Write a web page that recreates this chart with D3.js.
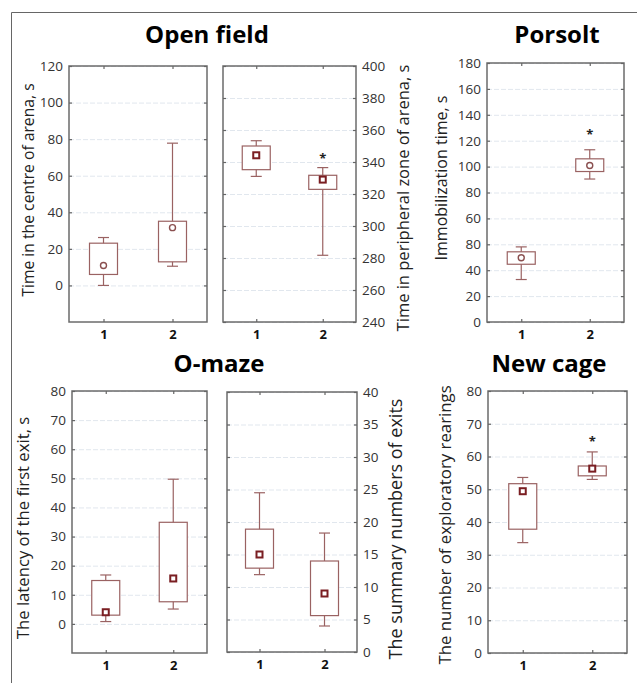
<!DOCTYPE html>
<html>
<head>
<meta charset="utf-8">
<script src="https://cdn.jsdelivr.net/npm/d3@7"></script>
<style>
  body { margin: 0; background: #fff; }
  svg { display: block; font-family: "Open Sans", sans-serif; }
</style>
</head>
<body>
<div id="chart"></div>
<script>
const groups = ["1", "2"];

// [lower whisker, Q1, median, Q3, upper whisker] for groups 1 and 2
const centreArena = [[0, 6, 10.9, 23.1, 26.2], [10.5, 12.9, 31.6, 35.1, 77.8]];
const peripheralZone = [[331, 335.2, 344.2, 350, 353.3], [281.7, 322.9, 329, 331.7, 336.5]];
const immobilization = [[32.8, 42.3, 44.8, 47.1, 49], [90.4, 96.2, 100.8, 106, 113]];
const firstExitLatency = [[0.8, 3, 4, 14.9, 16.8], [5.1, 7.6, 15.6, 34.9, 49.7]];
const exitCount = [[11.9, 12.9, 15, 18.9, 24.5], [4, 5.6, 9, 14, 18.3]];
const rearings = [[33.7, 37.8, 49.4, 51.7, 53.6], [53, 54.1, 56.3, 57.1, 61.4]];

// significance marks (*) per group, null = none
const peripheralStars = [null, 343];
const immobilizationStars = [null, 125.8];
const rearingStars = [null, 65];

// tick values
const centreTicks = [0, 20, 40, 60, 80, 100, 120];
const peripheralTicks = [240, 260, 280, 300, 320, 340, 360, 380, 400];
const porsoltTicks = [0, 20, 40, 50, 60, 80, 100, 120, 140, 160, 180];
const porsoltTickLabels = ["0", "20", "40", "80", "60", "80", "100", "120", "140", "160", "180"];
const latencyTicks = [0, 10, 20, 30, 40, 50, 60, 70, 80];
const exitTicks = [0, 5, 10, 15, 20, 25, 30, 35, 40];
const rearingTicks = [0, 10, 20, 30, 40, 50, 60, 70, 80];

const titles = [
    { text: "Open field", x: 207, y: 43 },
    { text: "Porsolt", x: 557, y: 43 },
    { text: "O-maze", x: 219, y: 372 },
    { text: "New cage", x: 549, y: 372 }
];

const width = 637, height = 683;

const svg = d3.select("#chart").append("svg")
    .attr("width", width)
    .attr("height", height);

// outer frame (top and left only)
svg.append("path")
    .attr("d", `M11.5,${height} V12.5 H${width}`)
    .attr("fill", "none")
    .attr("stroke", "#666")
    .attr("stroke-width", 1);

const porsoltStep = (322 - 63) / 10;

const panels = [
    { stats: centreArena, stars: [null, null], ticks: centreTicks, domain: [-20, 120],
      x0: 69, x1: 207, y0: 66, y1: 322, side: "left", marker: "circle",
      label: "Time in the centre of arena, s", lx: 28, ly: 190, lsize: 15.7 },
    { stats: peripheralZone, stars: peripheralStars, ticks: peripheralTicks, domain: [240, 400],
      x0: 223, x1: 356, y0: 66, y1: 322, side: "right", marker: "square",
      label: "Time in peripheral zone of arena, s", lx: 402, ly: 198, lsize: 16.5 },
    { stats: immobilization, stars: immobilizationStars, ticks: porsoltTicks, labels: porsoltTickLabels,
      scale: d3.scaleLinear().domain([0, 40, 60, 180]).range([322, 322 - 2 * porsoltStep, 322 - 4 * porsoltStep, 63]),
      x0: 487, x1: 624, y0: 63, y1: 322, side: "left", marker: "circle",
      label: "Immobilization time, s", lx: 441, ly: 178, lsize: 16 },
    { stats: firstExitLatency, stars: [null, null], ticks: latencyTicks, domain: [-10, 80],
      x0: 72, x1: 207, y0: 391, y1: 653, side: "left", marker: "square",
      label: "The latency of the first exit, s", lx: 22, ly: 528, lsize: 16.7 },
    { stats: exitCount, stars: [null, null], ticks: exitTicks, domain: [0, 40],
      x0: 227, x1: 357, y0: 392, y1: 652, side: "right", marker: "square",
      label: "The summary numbers of exits", lx: 395, ly: 529, lsize: 18 },
    { stats: rearings, stars: rearingStars, ticks: rearingTicks, domain: [0, 80],
      x0: 488, x1: 627, y0: 391, y1: 653, side: "left", marker: "square",
      label: "The number of exploratory rearings", lx: 444, ly: 525, lsize: 16.8 }
];

panels.forEach(p => {
    const y = p.scale || d3.scaleLinear().domain(p.domain).range([p.y1, p.y0]);
    const x = d3.scalePoint().domain(groups).range([p.x0, p.x1]).padding(0.5);
    const w = p.x1 - p.x0;
    const g = svg.append("g");

    // gridlines
    g.append("g")
        .attr("transform", `translate(${p.x0},0)`)
        .call(d3.axisLeft(y).tickValues(p.ticks).tickSize(-w).tickFormat(""))
        .call(a => a.select(".domain").remove())
        .selectAll("line")
        .attr("stroke", "#e1e7ee")
        .attr("stroke-dasharray", "5,2");

    // frame
    g.append("rect")
        .attr("x", p.x0).attr("y", p.y0)
        .attr("width", w).attr("height", p.y1 - p.y0)
        .attr("fill", "none")
        .attr("stroke", "#6b6b6b")
        .attr("stroke-width", 1.5);

    // small inner tick marks on all four sides
    const tickStyle = a => {
        a.select(".domain").remove();
        a.selectAll("line").attr("stroke", "#666").attr("stroke-width", 1.2);
    };
    g.append("g").attr("transform", `translate(${p.x0},0)`)
        .call(d3.axisLeft(y).tickValues(p.ticks).tickSize(-3).tickFormat("")).call(tickStyle);
    g.append("g").attr("transform", `translate(${p.x1},0)`)
        .call(d3.axisRight(y).tickValues(p.ticks).tickSize(-3).tickFormat("")).call(tickStyle);
    g.append("g").attr("transform", `translate(0,${p.y0})`)
        .call(d3.axisTop(x).tickSize(-3).tickFormat("")).call(tickStyle);
    g.append("g").attr("transform", `translate(0,${p.y1})`)
        .call(d3.axisBottom(x).tickSize(-3).tickFormat("")).call(tickStyle);

    // y tick labels
    const yAxis = (p.side === "left" ? d3.axisLeft(y) : d3.axisRight(y))
        .tickValues(p.ticks)
        .tickSize(0)
        .tickPadding(6)
        .tickFormat((d, i) => p.labels ? p.labels[i] : d);
    g.append("g")
        .attr("transform", `translate(${p.side === "left" ? p.x0 : p.x1},0)`)
        .call(yAxis)
        .call(a => a.select(".domain").remove())
        .selectAll("text")
        .attr("font-family", "'Open Sans', sans-serif")
        .attr("font-size", 13.5)
        .attr("fill", "#333");

    // x tick labels
    g.append("g")
        .attr("transform", `translate(0,${p.y1})`)
        .call(d3.axisBottom(x).tickSize(0).tickPadding(8))
        .call(a => a.select(".domain").remove())
        .selectAll("text")
        .attr("font-family", "'Open Sans', sans-serif")
        .attr("font-size", 13)
        .attr("font-weight", 700)
        .attr("fill", "#111");

    // axis title
    g.append("text")
        .attr("transform", `translate(${p.lx},${p.ly}) rotate(-90)`)
        .attr("text-anchor", "middle")
        .attr("dominant-baseline", "central")
        .attr("font-size", p.lsize)
        .attr("fill", "#222")
        .text(p.label);

    // boxes
    const boxW = 28, capW = 11;
    const box = g.selectAll(".box")
        .data(p.stats)
        .join("g")
        .attr("class", "box")
        .attr("transform", (d, i) => `translate(${x(groups[i])},0)`);

    box.append("line")
        .attr("y1", d => y(d[0])).attr("y2", d => y(d[4]))
        .attr("stroke", "#9a6262").attr("stroke-width", 1.2);
    box.append("rect")
        .attr("x", -boxW / 2).attr("width", boxW)
        .attr("y", d => y(d[3])).attr("height", d => y(d[1]) - y(d[3]))
        .attr("fill", "#fff")
        .attr("stroke", "#9a6262").attr("stroke-width", 1.2);
    box.selectAll(".cap")
        .data(d => [d[0], d[4]])
        .join("line")
        .attr("x1", -capW / 2).attr("x2", capW / 2)
        .attr("y1", v => y(v)).attr("y2", v => y(v))
        .attr("stroke", "#9a6262").attr("stroke-width", 1.2);

    if (p.marker === "circle") {
        box.append("circle")
            .attr("cy", d => y(d[2])).attr("r", 3)
            .attr("fill", "#fff")
            .attr("stroke", "#8a4f4f").attr("stroke-width", 1.4);
    } else {
        box.append("rect")
            .attr("x", -3).attr("y", d => y(d[2]) - 3)
            .attr("width", 6).attr("height", 6)
            .attr("fill", "#fff")
            .attr("stroke", "#7a1e22").attr("stroke-width", 2);
    }

    // significance stars
    g.selectAll(".star")
        .data(p.stars.map((v, i) => ({ v, i })).filter(d => d.v !== null))
        .join("text")
        .attr("class", "star")
        .attr("x", d => x(groups[d.i]))
        .attr("y", d => y(d.v) + 6)
        .attr("text-anchor", "middle")
        .attr("font-size", 13)
        .attr("font-weight", 700)
        .attr("fill", "#222")
        .text("*");
});

// panel titles
svg.selectAll(".title")
    .data(titles)
    .join("text")
    .attr("class", "title")
    .attr("x", d => d.x)
    .attr("y", d => d.y)
    .attr("text-anchor", "middle")
    .attr("font-size", 24)
    .attr("font-weight", 700)
    .attr("fill", "#000")
    .text(d => d.text);
</script>
</body>
</html>
